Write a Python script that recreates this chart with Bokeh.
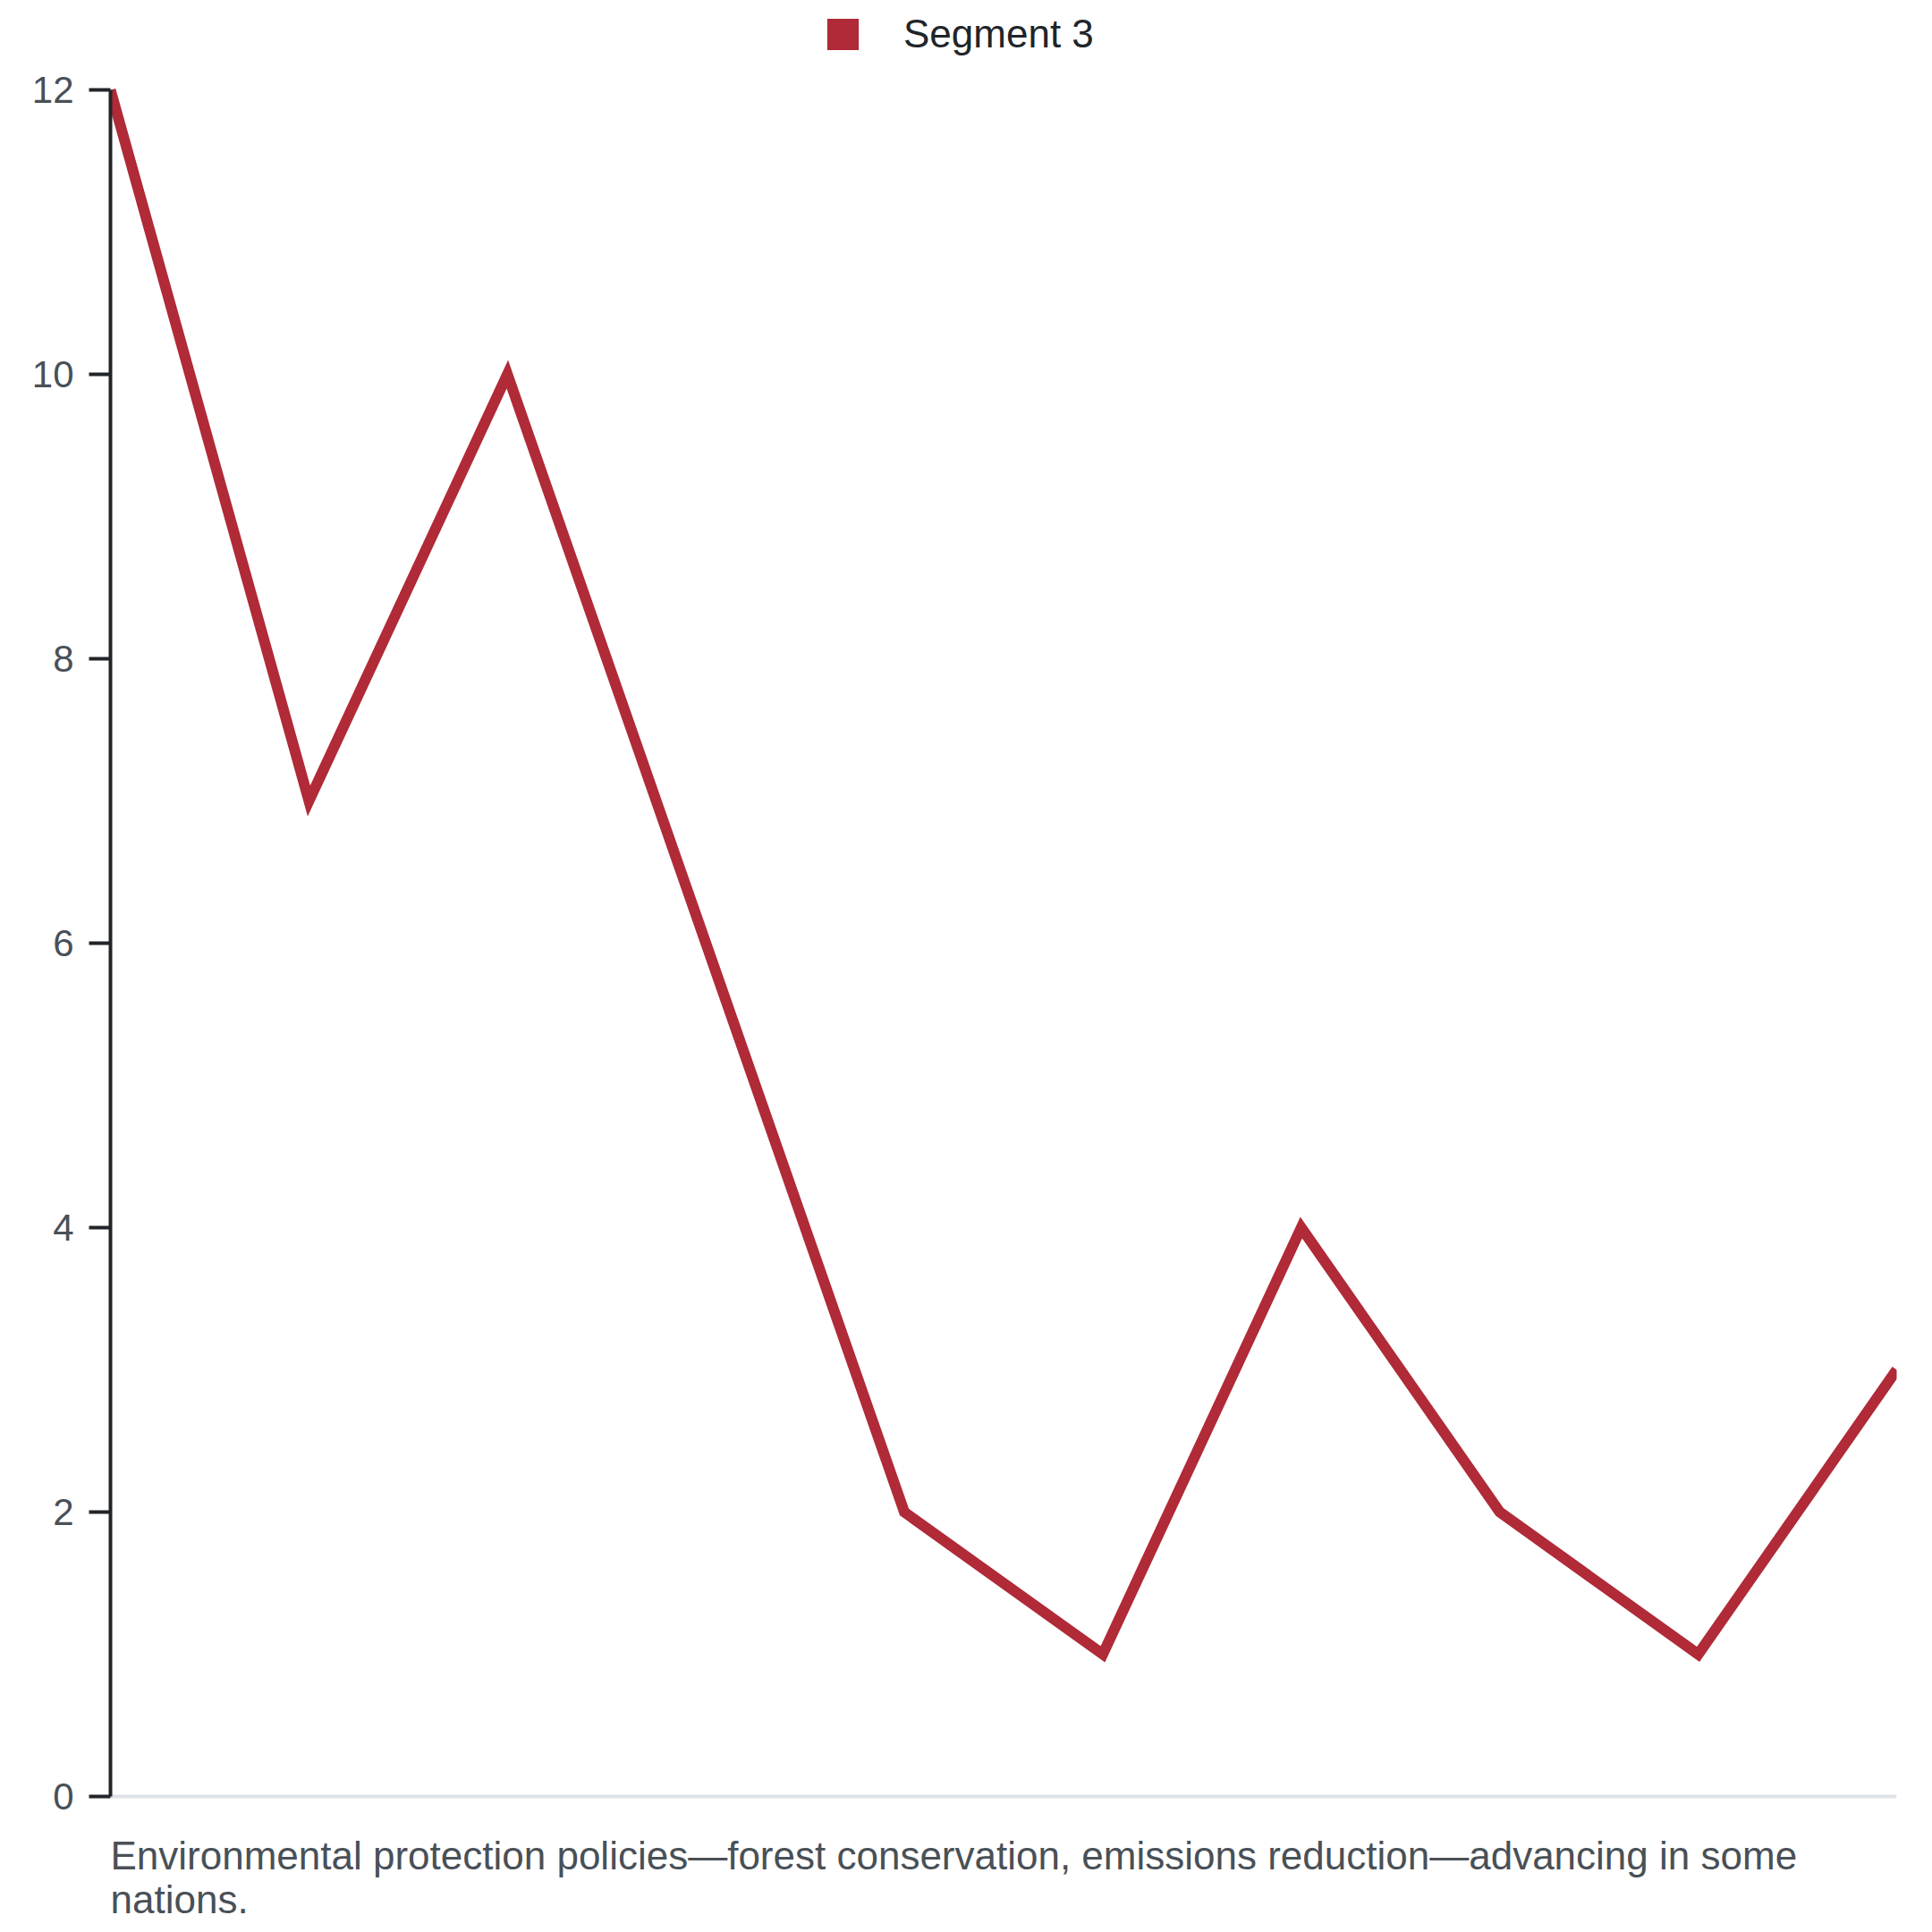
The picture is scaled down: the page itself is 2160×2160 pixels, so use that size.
from bokeh.plotting import figure
from bokeh.models import Legend, LegendItem, Label, Range1d, FixedTicker, Span
from bokeh.embed import file_html
from bokeh.resources import INLINE

# data
x_idx = [0, 1, 2, 3, 4, 5, 6, 7, 8, 9]
values = [12, 7, 10, 6, 2, 1, 4, 2, 1, 3]
series_name = "Segment 3"
y_ticks = [0, 2, 4, 6, 8, 10, 12]
y_min, y_max = 0, 12
caption = "Environmental protection policies\u2014forest conservation, emissions reduction\u2014advancing in some\nnations."

RED = "#b02a37"
FONT = "Liberation Sans"

W, H = 2160, 2160
TOP_PX, BOTTOM_PX = 100, 2008          # pixel rows of y=12 and y=0
ppu = (BOTTOM_PX - TOP_PX) / (y_max - y_min)
y_lo = y_min - (H - BOTTOM_PX) / ppu
y_hi = y_max + TOP_PX / ppu

p = figure(width=W, height=H, output_backend="svg", toolbar_location=None,
           x_range=Range1d(0, 9), y_range=Range1d(y_lo, y_hi),
           min_border_left=123, min_border_right=40, min_border_top=0, min_border_bottom=0)
p.outline_line_color = None
p.xgrid.visible = False
p.ygrid.visible = False
p.xaxis.visible = False
p.background_fill_color = "white"
p.border_fill_color = "white"

# x baseline
p.add_layout(Span(location=y_min, dimension="width", line_color="#dee2e6", line_width=4, level="underlay"))

line_r = p.line(x_idx, values, line_color=RED, line_width=12, line_join="miter", line_cap="butt")
# zero-size quads used only as the legend swatch
sw = p.quad(left=x_idx, right=x_idx, top=values, bottom=values, fill_color=RED, line_color=None)

# y axis
ya = p.yaxis[0]
ya.bounds = (y_min, y_max)
ya.ticker = FixedTicker(ticks=y_ticks)
ya.axis_line_color = "#212529"
ya.axis_line_width = 4
ya.major_tick_line_color = "#212529"
ya.major_tick_line_width = 4
ya.major_tick_out = 24
ya.major_tick_in = 0
ya.minor_tick_line_color = None
ya.major_label_text_font = FONT
ya.major_label_text_font_size = "42px"
ya.major_label_text_color = "#495057"
ya.major_label_standoff = 17

legend = Legend(items=[LegendItem(label=series_name, renderers=[sw])],
                location=(797, 2097), orientation="horizontal",
                padding=0, margin=0, spacing=0,
                glyph_width=44, glyph_height=44, label_height=44,
                label_standoff=46, label_text_font=FONT, label_text_font_size="44px",
                label_text_color="#212529", background_fill_alpha=0, border_line_color=None)
p.add_layout(legend, "center")

cap = Label(x=0, y=-(2049 - BOTTOM_PX) / ppu, text=caption,
            text_font=FONT, text_font_size="44px", text_color="#495057",
            text_baseline="top", text_align="left", text_line_height=1.0)
p.add_layout(cap)

open("out.html", "w").write(file_html(p, INLINE))
